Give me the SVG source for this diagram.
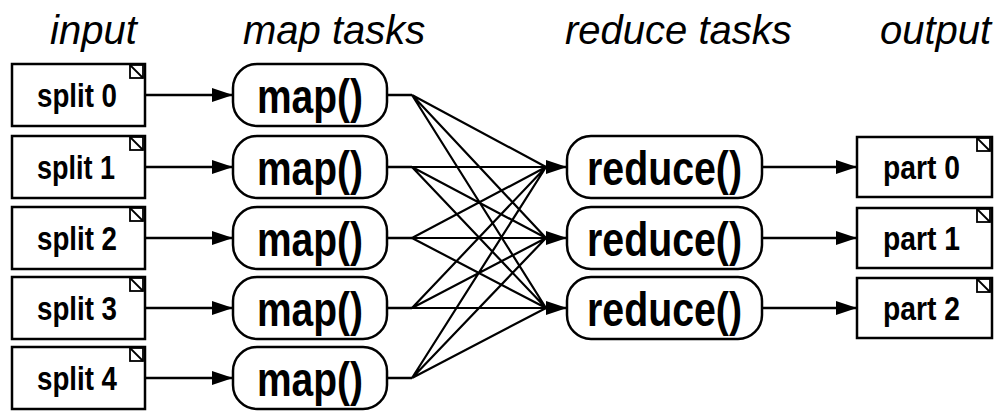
<svg xmlns="http://www.w3.org/2000/svg" width="1001" height="411" viewBox="0 0 1001 411">
<style>
.title{font-family:"Liberation Sans",Arial,sans-serif;font-style:italic;font-size:40px;fill:#000}
.lbl{font-family:"Liberation Sans",Arial,sans-serif;font-weight:bold;fill:#000}
.box{fill:#fff;stroke:#000;stroke-width:2.5}
.rbox{fill:#fff;stroke:#000;stroke-width:2.5}
.mk{fill:#fff;stroke:#000;stroke-width:1.8}
.edge{stroke:#000;stroke-width:2.5;fill:none}
.fan{stroke:#000;stroke-width:2.2;fill:none}
</style>
<defs>
<marker id="ah" markerUnits="userSpaceOnUse" markerWidth="22" markerHeight="14" refX="21" refY="7" orient="auto">
<path d="M0,0 L21,7 L0,14 z" fill="#000"/>
</marker>
<g id="corner"><rect x="0" y="0" width="13" height="13" class="mk"/><path d="M0,0 L13,13" stroke="#000" stroke-width="1.8"/></g>
</defs>
<rect width="1001" height="411" fill="#fff"/>
<g id="titles">
<text class="title" x="50" y="44">input</text>
<text class="title" x="243" y="44">map tasks</text>
<text class="title" x="565" y="44">reduce tasks</text>
<text class="title" x="880" y="44">output</text>
</g>
<g id="connectors">
<line class="edge" x1="145" y1="95" x2="233" y2="95" marker-end="url(#ah)"/>
<line class="edge" x1="145" y1="167" x2="233" y2="167" marker-end="url(#ah)"/>
<line class="edge" x1="145" y1="238" x2="233" y2="238" marker-end="url(#ah)"/>
<line class="edge" x1="145" y1="308" x2="233" y2="308" marker-end="url(#ah)"/>
<line class="edge" x1="145" y1="378" x2="233" y2="378" marker-end="url(#ah)"/>
<path class="edge" d="M387,95 H412 M387,167 H412 M387,238 H412 M387,308 H412 M387,378 H412" stroke-width="3"/>
<path class="fan" d="M412,95 L546,167 M412,95 L546,238 M412,95 L546,308
M412,167 L546,167 M412,167 L546,238 M412,167 L546,308
M412,238 L546,167 M412,238 L546,238 M412,238 L546,308
M412,308 L546,167 M412,308 L546,238 M412,308 L546,308
M412,378 L546,167 M412,378 L546,238 M412,378 L546,308"/>
<line class="edge" x1="544" y1="167" x2="567" y2="167" marker-end="url(#ah)"/>
<line class="edge" x1="544" y1="238" x2="567" y2="238" marker-end="url(#ah)"/>
<line class="edge" x1="544" y1="308" x2="567" y2="308" marker-end="url(#ah)"/>
<line class="edge" x1="762" y1="167" x2="857" y2="167" marker-end="url(#ah)"/>
<line class="edge" x1="762" y1="238" x2="857" y2="238" marker-end="url(#ah)"/>
<line class="edge" x1="762" y1="308" x2="857" y2="308" marker-end="url(#ah)"/>
</g>
<g id="split0"><rect class="box" x="12" y="64" width="133" height="62"/><use href="#corner" x="130" y="65"/><text class="lbl" x="37" y="107" font-size="33" textLength="80" lengthAdjust="spacingAndGlyphs">split 0</text></g>
<g id="split1"><rect class="box" x="12" y="136" width="133" height="62"/><use href="#corner" x="130" y="137"/><text class="lbl" x="37" y="179" font-size="33" textLength="78" lengthAdjust="spacingAndGlyphs">split 1</text></g>
<g id="split2"><rect class="box" x="12" y="207" width="133" height="62"/><use href="#corner" x="130" y="208"/><text class="lbl" x="37" y="250" font-size="33" textLength="80" lengthAdjust="spacingAndGlyphs">split 2</text></g>
<g id="split3"><rect class="box" x="12" y="277" width="133" height="62"/><use href="#corner" x="130" y="278"/><text class="lbl" x="37" y="320" font-size="33" textLength="80" lengthAdjust="spacingAndGlyphs">split 3</text></g>
<g id="split4"><rect class="box" x="12" y="347" width="133" height="62"/><use href="#corner" x="130" y="348"/><text class="lbl" x="37" y="390" font-size="33" textLength="80" lengthAdjust="spacingAndGlyphs">split 4</text></g>
<g id="map0"><rect class="rbox" x="233" y="64" width="154" height="62" rx="24"/><text class="lbl" x="257" y="113" font-size="48" textLength="106" lengthAdjust="spacingAndGlyphs">map()</text></g>
<g id="map1"><rect class="rbox" x="233" y="136" width="154" height="62" rx="24"/><text class="lbl" x="257" y="185" font-size="48" textLength="106" lengthAdjust="spacingAndGlyphs">map()</text></g>
<g id="map2"><rect class="rbox" x="233" y="207" width="154" height="62" rx="24"/><text class="lbl" x="257" y="256" font-size="48" textLength="106" lengthAdjust="spacingAndGlyphs">map()</text></g>
<g id="map3"><rect class="rbox" x="233" y="277" width="154" height="62" rx="24"/><text class="lbl" x="257" y="326" font-size="48" textLength="106" lengthAdjust="spacingAndGlyphs">map()</text></g>
<g id="map4"><rect class="rbox" x="233" y="347" width="154" height="62" rx="24"/><text class="lbl" x="257" y="396" font-size="48" textLength="106" lengthAdjust="spacingAndGlyphs">map()</text></g>
<g id="reduce0"><rect class="rbox" x="567" y="136" width="195" height="62" rx="24"/><text class="lbl" x="587" y="185" font-size="48" textLength="155" lengthAdjust="spacingAndGlyphs">reduce()</text></g>
<g id="reduce1"><rect class="rbox" x="567" y="207" width="195" height="62" rx="24"/><text class="lbl" x="587" y="256" font-size="48" textLength="155" lengthAdjust="spacingAndGlyphs">reduce()</text></g>
<g id="reduce2"><rect class="rbox" x="567" y="277" width="195" height="62" rx="24"/><text class="lbl" x="587" y="326" font-size="48" textLength="155" lengthAdjust="spacingAndGlyphs">reduce()</text></g>
<g id="part0"><rect class="box" x="857" y="137" width="135" height="60"/><use href="#corner" x="977" y="138"/><text class="lbl" x="883" y="179" font-size="33" textLength="77" lengthAdjust="spacingAndGlyphs">part 0</text></g>
<g id="part1"><rect class="box" x="857" y="208" width="135" height="60"/><use href="#corner" x="977" y="209"/><text class="lbl" x="883" y="250" font-size="33" textLength="77" lengthAdjust="spacingAndGlyphs">part 1</text></g>
<g id="part2"><rect class="box" x="857" y="278" width="135" height="60"/><use href="#corner" x="977" y="279"/><text class="lbl" x="883" y="320" font-size="33" textLength="77" lengthAdjust="spacingAndGlyphs">part 2</text></g>
</svg>
